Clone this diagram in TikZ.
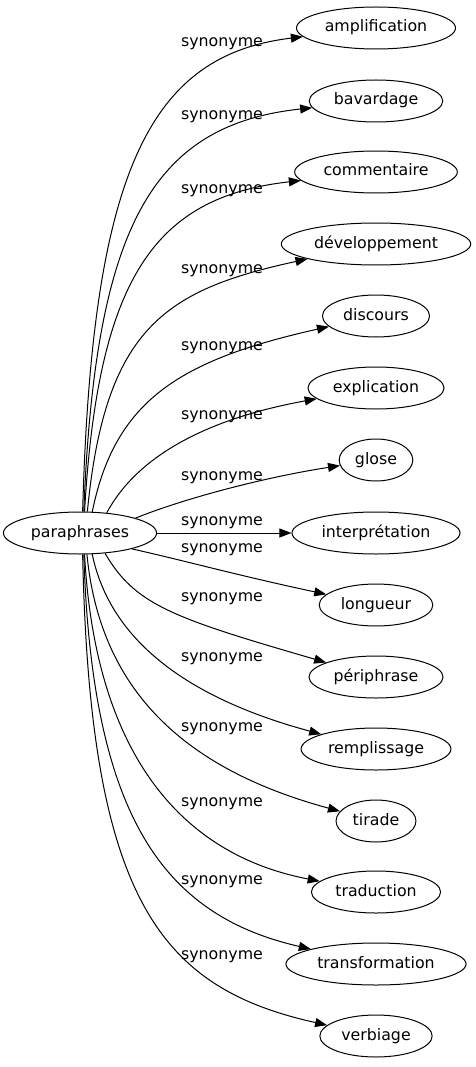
\documentclass[tikz,border=0pt]{standalone}
\usepackage{fontspec}
\setmainfont{DejaVu Sans}
\usetikzlibrary{arrows.meta,shapes.geometric}
\tikzset{
  term/.style={draw, ellipse, line width=1pt, inner xsep=5pt, minimum height=42pt, text height=12pt, text depth=4pt},
  rel/.style={inner sep=0pt, text height=12pt, text depth=4pt},
  link/.style={line width=1pt, -{Triangle[length=12pt,width=9pt]}}
}
\begin{document}
\begin{tikzpicture}[x=1pt, y=-1pt, font=\fontsize{15.8}{18}\selectfont]
  \useasboundingbox (0,0) rectangle (475,1067);
  \node[term] (par) at (80,533) {paraphrases};
  \foreach \n/\y/\t in {amp/28/amplification, bav/101/bavardage, com/172/commentaire,
      dev/244/développement, dis/316/discours, exp/388/explication, glo/460/glose,
      int/533/interprétation, lon/605/longueur, per/677/périphrase, rem/749/remplissage,
      tir/821/tirade, tra/892/traduction, trf/964/transformation, ver/1036/verbiage}
    \node[term] (\n) at (376,\y) {\t};
  \foreach \i/\y in {1/43, 2/116, 3/190, 4/269, 5/346, 6/415, 7/476, 8/521,
      9/548, 10/597, 11/657, 12/727, 13/802, 14/880, 15/955}
    \node[rel] (syn\i) at (222,\y) {synonyme};
  \foreach \n/\a/\ax/\ay/\bx/\by in {
      amp/83/92/170/150/55, bav/80/95/230/150/125, com/78/98/277/155/197,
      dev/71/105/328/165/290, dis/60/115/400/180/360, exp/37/135/460/200/420,
      glo/15/180/500/260/478, lon/-17/190/562/236/575, per/-39/135/605/173/618,
      rem/-60/110/640/187/698, tir/-72/100/690/184/769, tra/-78/95/750/178/854,
      trf/-80/92/815/162/915, ver/-83/90/900/160/988}
    \draw[link] (par.\a) .. controls (\ax,\ay) and (\bx,\by) .. (\n);
  \draw[link] (par) -- (int);
\end{tikzpicture}
\end{document}
